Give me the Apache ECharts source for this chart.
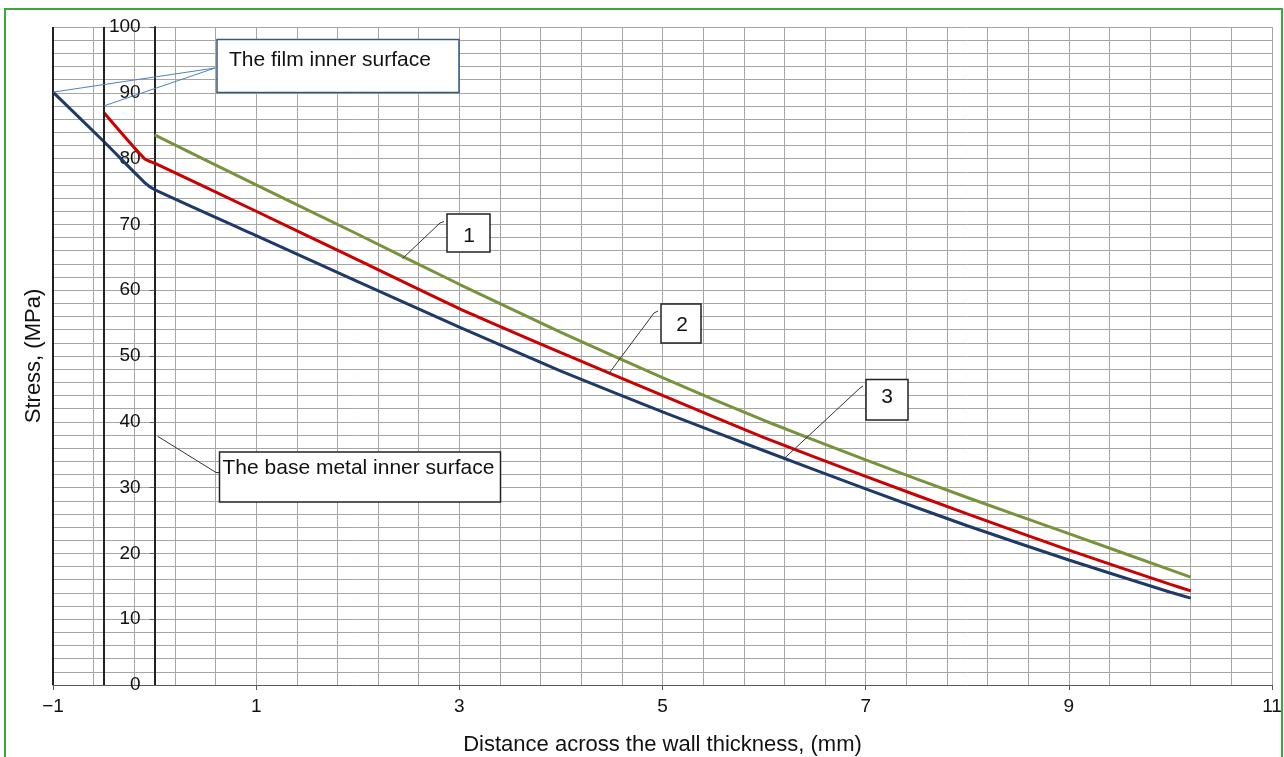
<!DOCTYPE html>
<html>
<head>
<meta charset="utf-8">
<script src="https://cdn.jsdelivr.net/npm/echarts@6/dist/echarts.min.js"></script>
<style>
  html, body { margin: 0; padding: 0; background: #fff; }
  #chart { width: 1284px; height: 757px; }
</style>
</head>
<body>
<div id="chart"></div>
<script>
// distances (mm) shared by the three curves in the base metal
const xBase = [0, 1, 2, 3, 4, 5, 6, 7, 8, 9, 10, 10.2]
// film part (left of the base metal inner surface)
const xFilm2 = [-0.5, -0.1]
const xFilm3 = [-1, -0.5, -0.1]

// stresses, MPa
const curve1 = [83.6, 76.0, 68.5, 60.9, 53.6, 46.7, 40.2, 34.2, 28.5, 23.0, 17.5, 16.4]
const curve2Film = [87.0, 80.0]
const curve2 = [79.3, 72.0, 64.6, 57.2, 50.5, 44.0, 37.6, 31.7, 26.0, 20.5, 15.3, 14.3]
const curve3Film = [90.1, 82.6, 76.4]
const curve3 = [75.3, 68.3, 61.3, 54.4, 47.7, 41.5, 35.6, 29.8, 24.2, 19.0, 14.1, 13.2]

// surfaces marked by vertical lines
const surfaces = [-1, -0.5]

// callout anchors [x, stress]
const filmAnchors = [[-1, 90.1], [-0.5, 88.0]]
const baseAnchor = [0.03, 37.8]
const numAnchors = [[2.44, 64.8], [4.47, 47.3], [6.19, 34.3]]

const FONT = "'Liberation Sans', Arial, sans-serif"
const toPairs = (xs, ys) => xs.map((x, i) => [x, ys[i]])

// grid box
const GL = 53, GR = 12
const xMin = -1, xMax = 11
// the stress axis sits at x = 0
const yAxisShift = (0 - xMin) / (xMax - xMin) * (1284 - GL - GR)

const chart = echarts.init(document.getElementById('chart'))

const option = {
  animation: false,
  backgroundColor: '#fff',
  textStyle: { fontFamily: FONT },
  grid: { left: GL, right: GR, top: 27, bottom: 72, outerBoundsMode: 'none' },
  xAxis: [
    {
      // fine grid
      type: 'value', min: xMin, max: xMax, interval: 0.4, position: 'bottom',
      axisLine: { show: true, lineStyle: { color: '#595959', width: 1 } },
      axisTick: { show: false },
      axisLabel: { show: false },
      splitLine: { show: true, lineStyle: { color: '#a6a6a6', width: 1 } }
    },
    {
      // labels
      type: 'value', min: xMin, max: xMax, interval: 2, position: 'bottom',
      axisLine: { show: false },
      axisTick: { show: true, length: 5, lineStyle: { color: '#595959' } },
      splitLine: { show: false },
      axisLabel: {
        margin: 12, fontSize: 19, color: '#111', fontFamily: FONT,
        formatter: (v) => (v < 0 ? '\u2212' + (-v) : String(v))
      },
      name: 'Distance across the wall thickness, (mm)',
      nameLocation: 'middle', nameGap: 49,
      nameTextStyle: { fontSize: 22, color: '#111', fontFamily: FONT }
    }
  ],
  yAxis: [
    {
      type: 'value', min: 0, max: 100, interval: 2, position: 'left',
      axisLine: { show: false, onZero: false },
      axisTick: { show: false },
      axisLabel: { show: false },
      splitLine: { show: true, lineStyle: { color: '#a6a6a6', width: 1 } }
    },
    {
      type: 'value', min: 0, max: 100, interval: 10, position: 'left',
      offset: -yAxisShift,
      axisLine: { show: true, onZero: false, lineStyle: { color: '#222', width: 2 } },
      axisTick: { show: true, length: 5, lineStyle: { color: '#595959' } },
      splitLine: { show: false },
      axisLabel: { margin: 14, fontSize: 19, color: '#111', fontFamily: FONT },
      name: 'Stress, (MPa)',
      nameLocation: 'middle', nameGap: 110,
      nameTextStyle: { fontSize: 22, color: '#111', fontFamily: FONT }
    }
  ],
  series: [
    {
      name: '1', type: 'line', symbol: 'none', smooth: 0.2,
      data: toPairs(xBase, curve1),
      lineStyle: { color: '#77933c', width: 3 },
      markLine: {
        silent: true, symbol: 'none', label: { show: false },
        lineStyle: { color: '#222', width: 2, type: 'solid' },
        data: surfaces.map((x) => ({ xAxis: x }))
      }
    },
    {
      name: '2', type: 'line', symbol: 'none', smooth: 0.2,
      data: toPairs(xFilm2, curve2Film).concat(toPairs(xBase, curve2)),
      lineStyle: { color: '#cc0000', width: 3 }
    },
    {
      name: '3', type: 'line', symbol: 'none', smooth: 0.2,
      data: toPairs(xFilm3, curve3Film).concat(toPairs(xBase, curve3)),
      lineStyle: { color: '#1f3a68', width: 3 }
    }
  ]
}

chart.setOption(option)

// callouts
const px = (p) => chart.convertToPixel({ xAxisIndex: 0, yAxisIndex: 0 }, p)
const boxStyle = (stroke) => ({ fill: '#fff', stroke: stroke, lineWidth: 1.5 })
const txt = (x, y, s, align) => ({
  type: 'text', x: x, y: y, z: 20,
  style: { text: s, fontSize: 21, fontFamily: FONT, fill: '#111', align: align || 'left', verticalAlign: 'middle' }
})
const leader = (pts, color) => ({
  type: 'polyline', z: 15, shape: { points: pts },
  style: { stroke: color, lineWidth: 1, fill: null }
})

const graphic = [
  // page frame
  { type: 'rect', z: 30, shape: { x: 5, y: 9, width: 1277, height: 760 }, style: { fill: null, stroke: '#3aaa3a', lineWidth: 2 } },

  // film inner surface
  leader([[215, 68], px(filmAnchors[0])], '#4f81bd'),
  leader([[215, 68], px(filmAnchors[1])], '#4f81bd'),
  { type: 'rect', z: 18, shape: { x: 217, y: 39.5, width: 242, height: 53 }, style: boxStyle('#3a5783') },
  txt(229, 60, 'The film inner surface'),

  // base metal inner surface
  leader([px(baseAnchor), [216, 472.5], [220, 472.5]], '#333'),
  { type: 'rect', z: 18, shape: { x: 219.5, y: 452, width: 281, height: 50 }, style: boxStyle('#222') },
  txt(222.5, 468, 'The base metal inner surface'),

  // curve numbers
  leader([px(numAnchors[0]), [440, 223], [444, 221.5]], '#333'),
  { type: 'rect', z: 18, shape: { x: 447, y: 214, width: 43, height: 38 }, style: boxStyle('#222') },
  txt(469, 236, '1', 'center'),

  leader([px(numAnchors[1]), [654, 313], [658, 311]], '#333'),
  { type: 'rect', z: 18, shape: { x: 661, y: 304, width: 40, height: 39 }, style: boxStyle('#222') },
  txt(682, 325, '2', 'center'),

  leader([px(numAnchors[2]), [860, 388], [863, 386]], '#333'),
  { type: 'rect', z: 18, shape: { x: 866, y: 379.5, width: 42, height: 40.5 }, style: boxStyle('#222') },
  txt(887, 397, '3', 'center')
]

chart.setOption({ graphic: graphic })
</script>
</body>
</html>
